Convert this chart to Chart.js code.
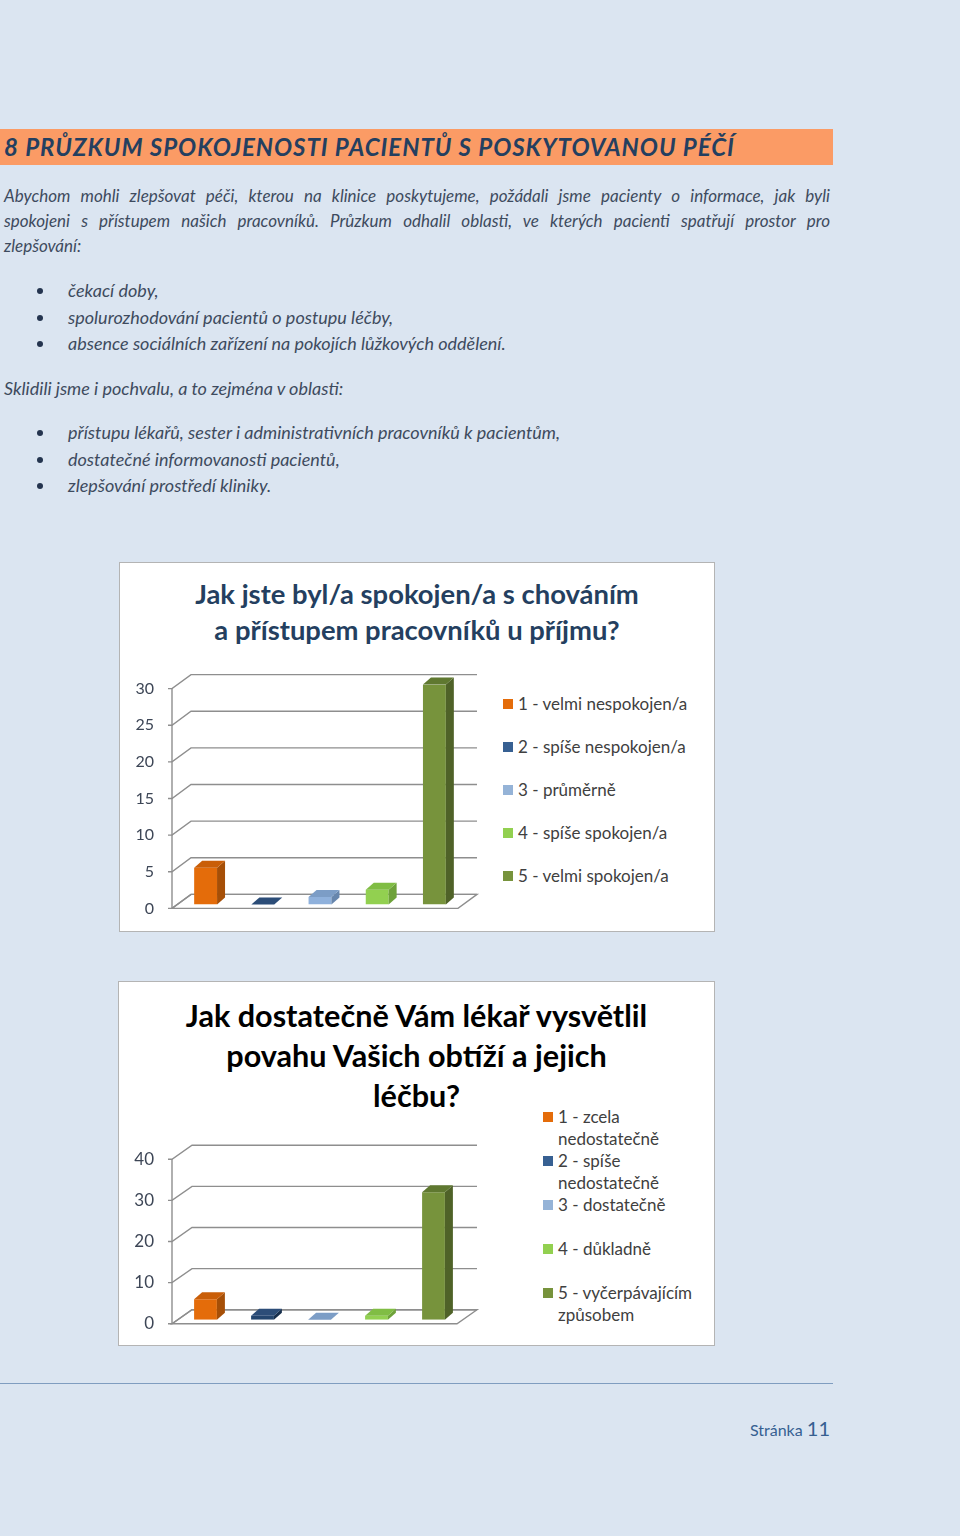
<!DOCTYPE html>
<html lang="cs">
<head>
<meta charset="utf-8">
<title>Průzkum spokojenosti pacientů</title>
<script src="https://cdn.jsdelivr.net/npm/chart.js@4.4.0/dist/chart.umd.min.js"></script>
<style>
  body { margin: 0; background: #dbe5f1; font-family: Lato, "Open Sans", sans-serif; }
  .page { position: relative; width: 960px; height: 1536px; overflow: hidden; }
  .heading { position: absolute; left: 0; top: 129px; width: 833px; height: 36px; background: #fb9b65; }
  .heading span { position: absolute; left: 4px; top: 0; line-height: 36px; font-weight: 700; font-style: italic;
                  font-size: 24px; color: #243f60; letter-spacing: 1px; white-space: nowrap; }
  .txt { position: absolute; left: 4px; width: 826px; font-style: italic; font-size: 17px; color: #3e4b5e; line-height: 25px; }
  .txt div { white-space: nowrap; }
  .txt .just { text-align: justify; text-align-last: justify; white-space: normal; }
  .txt .big { font-size: 18px; }
  ul.bul { position: absolute; left: 0; margin: 0; padding: 0; list-style: none; }
  ul.bul li { position: relative; padding-left: 68px; font-style: italic; font-size: 18px; line-height: 26.5px; color: #3e4b5e; white-space: nowrap; }
  ul.bul li::before { content: ''; position: absolute; left: 37px; top: 11px; width: 6px; height: 6px; border-radius: 50%; background: #24344f; }
  .box { position: absolute; background: #fff; border: 1px solid #b4b4b4; box-sizing: border-box; }
  .ctitle { position: absolute; text-align: center; font-weight: 700; }
  .cv { position: absolute; }
  .legend { position: absolute; font-size: 17px; color: #404040; }
  .legend .item { position: relative; padding-left: 15px; }
  .legend .sw { position: absolute; left: 0; width: 10px; height: 10px; }
  .rule { position: absolute; left: 0; top: 1383px; width: 833px; height: 1px; background: #7f9dc0; }
  .pageno { position: absolute; right: 130px; top: 1416px; color: #365f91; font-size: 16px; }
  .pageno b { font-weight: 400; font-size: 20px; }
</style>
</head>
<body>
<div class="page">
  <div class="heading"><span>8 PRŮZKUM SPOKOJENOSTI PACIENTŮ S POSKYTOVANOU PÉČÍ</span></div>

  <div class="txt" style="top:183px">
    <div class="just">Abychom mohli zlepšovat péči, kterou na klinice poskytujeme, požádali jsme pacienty o informace, jak byli</div>
    <div class="just">spokojeni s přístupem našich pracovníků. Průzkum odhalil oblasti, ve kterých pacienti spatřují prostor pro</div>
    <div>zlepšování:</div>
  </div>
  <ul class="bul" style="top:277px">
    <li>čekací doby,</li>
    <li>spolurozhodování pacientů o postupu léčby,</li>
    <li>absence sociálních zařízení na pokojích lůžkových oddělení.</li>
  </ul>
  <div class="txt" style="top:376px"><div class="big">Sklidili jsme i pochvalu, a to zejména v oblasti:</div></div>
  <ul class="bul" style="top:419px">
    <li>přístupu lékařů, sester i administrativních pracovníků k pacientům,</li>
    <li>dostatečné informovanosti pacientů,</li>
    <li>zlepšování prostředí kliniky.</li>
  </ul>

  <div class="box" style="left:119px;top:562px;width:596px;height:370px"></div>
  <div class="ctitle" style="left:119px;top:576px;width:596px;font-size:27.4px;line-height:36px;color:#243f60">Jak jste byl/a spokojen/a s chováním<br>a přístupem pracovníků u příjmu?</div>
  <div class="cv" style="left:120px;top:661px;width:363px;height:275px"><canvas id="chart1"></canvas></div>
  <div class="legend" id="legend1" style="left:503px;top:693px"></div>

  <div class="box" style="left:118px;top:981px;width:597px;height:365px"></div>
  <div class="ctitle" style="left:118px;top:996px;width:597px;font-size:30.6px;line-height:40px;color:#000">Jak dostatečně Vám lékař vysvětlil<br>povahu Vašich obtíží a jejich<br>léčbu?</div>
  <div class="cv" style="left:120px;top:1131px;width:362px;height:221px"><canvas id="chart2"></canvas></div>
  <div class="legend" id="legend2" style="left:543px;top:1106px;width:156px"></div>

  <div class="rule"></div>
  <div class="pageno">Stránka <b>11</b></div>
</div>

<script>
// data
const labels1 = ['1 - velmi nespokojen/a', '2 - spíše nespokojen/a', '3 - průměrně', '4 - spíše spokojen/a', '5 - velmi spokojen/a'];
const values1 = [5, 0, 1, 2, 30];
const ticks1 = [0, 5, 10, 15, 20, 25, 30];

const labels2 = ['1 - zcela nedostatečně', '2 - spíše nedostatečně', '3 - dostatečně', '4 - důkladně', '5 - vyčerpávajícím způsobem'];
const values2 = [5, 1, 0, 1, 31];
const ticks2 = [0, 10, 20, 30, 40];

// barvy: čelo, bok, vršek
const frontColors = ['#e46c0a', '#24466f', '#8fb1dc', '#92d050', '#77933c'];
const sideColors  = ['#a64f07', '#172f4d', '#6786ad', '#6ea23a', '#4f6228'];
const topColors   = ['#c95e08', '#2c4d78', '#7c9dc6', '#80bd44', '#5f7830'];
const legendColors = ['#e46c0a', '#376092', '#95b3d7', '#92d050', '#77933c'];

// legenda v HTML
function buildLegend(id, labels, gap, lineH) {
  const el = document.getElementById(id);
  labels.forEach((txt, i) => {
    const it = document.createElement('div');
    it.className = 'item';
    it.style.lineHeight = lineH + 'px';
    it.style.minHeight = gap + 'px';
    it.innerHTML = '<span class="sw" style="top:' + (lineH / 2 - 5) + 'px;background:' + legendColors[i] + '"></span>' + txt;
    el.appendChild(it);
  });
}
buildLegend('legend1', labels1, 43, 22);
buildLegend('legend2', labels2, 44, 22);

// 3D efekt – stěna, podlaha a boky sloupců
const depth3d = {
  id: 'depth3d',
  beforeDraw(chart, args, o) {
    const { ctx, chartArea: a, scales: { y } } = chart;
    ctx.save();
    ctx.strokeStyle = '#8e8e8e';
    ctx.lineWidth = 1.4;
    // podlaha
    ctx.beginPath();
    ctx.moveTo(a.left, a.bottom);
    ctx.lineTo(a.right, a.bottom);
    ctx.lineTo(a.right + o.wallX, a.bottom - o.wallY);
    ctx.lineTo(a.left + o.wallX, a.bottom - o.wallY);
    ctx.closePath();
    ctx.stroke();
    // mřížka na zadní stěně
    y.ticks.forEach(t => {
      const py = y.getPixelForValue(t.value);
      ctx.beginPath();
      ctx.moveTo(a.left - 4, py);
      ctx.lineTo(a.left, py);
      ctx.lineTo(a.left + o.wallX, py - o.wallY);
      ctx.lineTo(a.right + o.wallX, py - o.wallY);
      ctx.stroke();
    });
    // přední osa
    ctx.beginPath();
    ctx.moveTo(a.left, a.top);
    ctx.lineTo(a.left, a.bottom);
    ctx.stroke();
    ctx.restore();
  },
  beforeDatasetsDraw(chart, args, o) {
    chart.ctx.save();
    chart.ctx.translate(o.barX, -o.barY);
  },
  afterDatasetsDraw(chart, args, o) {
    const ctx = chart.ctx;
    chart.getDatasetMeta(0).data.forEach((bar, i) => {
      const p = bar.getProps(['x', 'y', 'base', 'width'], true);
      const l = p.x - p.width / 2, r = p.x + p.width / 2, t = p.y, b = p.base;
      ctx.fillStyle = sideColors[i];
      ctx.beginPath();
      ctx.moveTo(r, t); ctx.lineTo(r + o.depthX, t - o.depthY);
      ctx.lineTo(r + o.depthX, b - o.depthY); ctx.lineTo(r, b);
      ctx.closePath(); ctx.fill();
      ctx.fillStyle = topColors[i];
      ctx.beginPath();
      ctx.moveTo(l, t); ctx.lineTo(r, t);
      ctx.lineTo(r + o.depthX, t - o.depthY); ctx.lineTo(l + o.depthX, t - o.depthY);
      ctx.closePath(); ctx.fill();
    });
    ctx.restore();
  }
};

function makeChart(id, labels, values, ticks, fontSize, wall) {
  return new Chart(document.getElementById(id), {
    type: 'bar',
    data: {
      labels: labels,
      datasets: [{
        data: values,
        backgroundColor: frontColors,
        borderWidth: 0,
        barPercentage: 0.4,
        categoryPercentage: 1
      }]
    },
    options: {
      responsive: true,
      maintainAspectRatio: false,
      animation: false,
      layout: { padding: { top: 0, bottom: 0, left: 0, right: 25 } },
      plugins: {
        legend: { display: false },
        tooltip: { enabled: false },
        depth3d: { wallX: wall[0], wallY: wall[1], barX: 5, barY: 4, depthX: 8, depthY: 7 }
      },
      scales: {
        x: { display: false },
        y: {
          min: ticks[0],
          max: ticks[ticks.length - 1],
          afterBuildTicks: s => { s.ticks = ticks.map(v => ({ value: v })); },
          afterFit: s => { s.width = 52; },
          grid: { display: false, drawTicks: false },
          border: { display: false },
          ticks: { padding: 18, color: '#3d4656', font: { family: 'Lato', size: fontSize } }
        }
      }
    },
    plugins: [depth3d]
  });
}

makeChart('chart1', labels1, values1, ticks1, 16, [19, 14]);
makeChart('chart2', labels2, values2, ticks2, 17, [20, 14]);
</script>
</body>
</html>
